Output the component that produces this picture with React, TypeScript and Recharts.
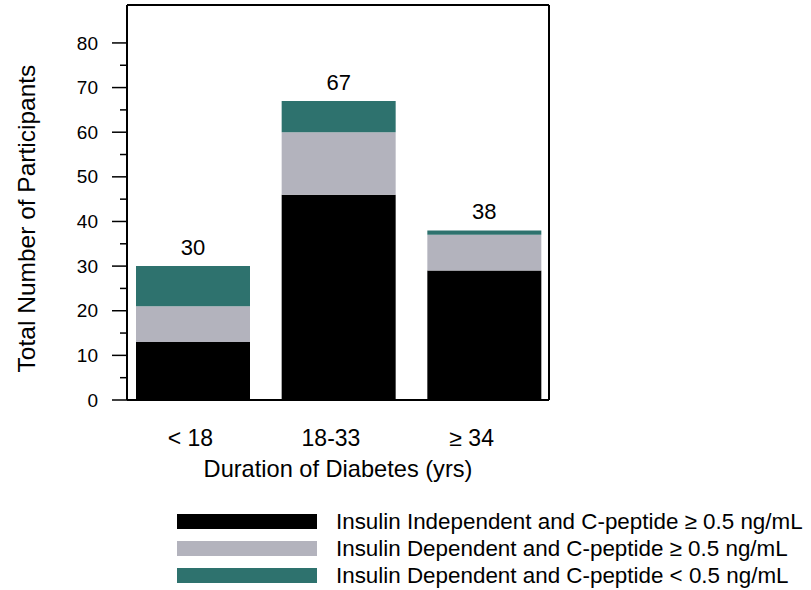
import { BarChart, Bar, XAxis, YAxis, LabelList, Legend } from 'recharts';

const categories = ['< 18', '18-33', '≥ 34'];
const independentHigh = [13, 46, 29];
const dependentHigh = [8, 14, 8];
const dependentLow = [9, 7, 1];
const yTicks = [0, 5, 10, 15, 20, 25, 30, 35, 40, 45, 50, 55, 60, 65, 70, 75, 80];

const seriesNames = [
  'Insulin Independent and C-peptide ≥ 0.5 ng/mL',
  'Insulin Dependent and C-peptide ≥ 0.5 ng/mL',
  'Insulin Dependent and C-peptide < 0.5 ng/mL',
];
const seriesColors = ['#000000', '#b3b3bd', '#2e726e'];

const data = categories.map((cat, i) => ({
  cat,
  a: independentHigh[i],
  b: dependentHigh[i],
  c: dependentLow[i],
  total: independentHigh[i] + dependentHigh[i] + dependentLow[i],
}));

const FONT = '"Liberation Sans", Arial, Helvetica, sans-serif';

function YTick({ x, y, payload }: any) {
  const v = payload.value;
  const major = v % 10 === 0;
  return (
    <g>
      <line x1={x - (major ? 15 : 7)} x2={x} y1={y} y2={y} stroke="#000" strokeWidth={1.5} />
      {major && (
        <text x={x - 29} y={y} dy="0.35em" textAnchor="end" fontSize={19} fill="#000" fontFamily={FONT}>
          {v}
        </text>
      )}
    </g>
  );
}

function YTitle({ viewBox }: any) {
  const cx = viewBox.x + 35;
  const cy = viewBox.y + viewBox.height / 2 + 16;
  return (
    <text x={cx} y={cy} transform={`rotate(-90 ${cx} ${cy})`} textAnchor="middle" fontSize={24.5} fill="#000" fontFamily={FONT}>
      Total Number of Participants
    </text>
  );
}

function LegendBox({ payload }: any) {
  const items = [...(payload || [])].sort(
    (p: any, q: any) => seriesNames.indexOf(p.value) - seriesNames.indexOf(q.value),
  );
  return (
    <div style={{ fontFamily: FONT }}>
      {items.map((p: any) => (
        <div key={p.value} style={{ display: 'flex', alignItems: 'center', height: 27 }}>
          <span style={{ display: 'inline-block', width: 140, height: 15, background: p.color }} />
          <span style={{ marginLeft: 19, fontSize: 22.4, color: '#000', whiteSpace: 'nowrap' }}>{p.value}</span>
        </div>
      ))}
    </div>
  );
}

export default function App() {
  return (
    <div style={{ position: 'absolute', left: 0, top: 0, width: 811, height: 590, background: '#fff', fontFamily: FONT }}>
      <BarChart width={811} height={590} data={data} margin={{ top: 4, right: 261, left: 0, bottom: 110 }}>
        <XAxis dataKey="cat" hide height={0} padding={{ left: -7, right: -8 }} />
        <XAxis
          xAxisId="labels"
          dataKey="cat"
          padding={{ left: -7, right: 7 }}
          height={80}
          axisLine={{ stroke: '#000', strokeWidth: 2 }}
          tickLine={false}
          tickSize={0}
          tickMargin={30}
          tick={{ fill: '#000', fontSize: 23, fontFamily: FONT }}
          label={{ value: 'Duration of Diabetes (yrs)', position: 'insideBottom', offset: 3, fontSize: 23.6, fill: '#000', fontFamily: FONT }}
        />
        <XAxis xAxisId="top" dataKey="cat" orientation="top" height={1} tick={false} tickLine={false} axisLine={{ stroke: '#000', strokeWidth: 2 }} />
        <YAxis
          width={127}
          domain={[0, 88.5]}
          ticks={yTicks}
          interval={0}
          tickSize={0}
          tickMargin={0}
          tickLine={false}
          axisLine={{ stroke: '#000', strokeWidth: 2 }}
          tick={<YTick />}
          label={{ content: <YTitle /> }}
        />
        <YAxis yAxisId="right" orientation="right" width={1} tick={false} tickLine={false} axisLine={{ stroke: '#000', strokeWidth: 2 }} />
        <Legend
          layout="vertical"
          align="center"
          verticalAlign="middle"
          wrapperStyle={{ left: 177, top: 508, width: 634 }}
          content={<LegendBox />}
        />
        <Bar dataKey="a" name={seriesNames[0]} stackId="s" fill={seriesColors[0]} barSize={114} isAnimationActive={false} />
        <Bar dataKey="b" name={seriesNames[1]} stackId="s" fill={seriesColors[1]} barSize={114} isAnimationActive={false} />
        <Bar dataKey="c" name={seriesNames[2]} stackId="s" fill={seriesColors[2]} barSize={114} isAnimationActive={false}>
          <LabelList dataKey="total" position="top" offset={11} fill="#000" fontSize={22} fontFamily={FONT} />
        </Bar>
      </BarChart>
    </div>
  );
}
